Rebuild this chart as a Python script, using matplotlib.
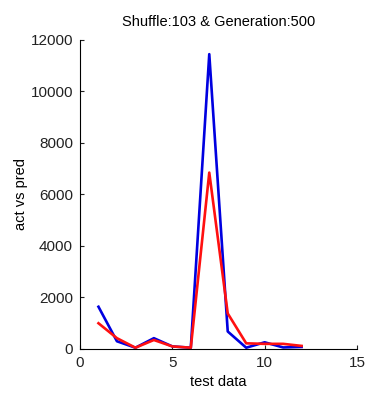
import matplotlib
matplotlib.use('Agg')
import matplotlib.pyplot as plt

# test data index
test_idx = [1, 2, 3, 4, 5, 6, 7, 8, 9, 10, 11, 12]
# actual values (blue)
actual = [1640, 300, 50, 420, 100, 50, 11450, 680, 50, 260, 60, 80]
# predicted values (red)
predicted = [1000, 420, 50, 350, 100, 50, 6850, 1380, 220, 200, 200, 120]

x_ticks = [0, 5, 10, 15]
y_ticks = [0, 2000, 4000, 6000, 8000, 10000, 12000]

plt.rcParams['font.family'] = ['Liberation Sans', 'DejaVu Sans']

fig = plt.figure(figsize=(3.66, 3.96), dpi=100)
ax = fig.add_axes([0.2186, 0.1187, 0.7568, 0.7803])

ax.plot(test_idx, actual, color='#0000e0', lw=1.9)
ax.plot(test_idx, predicted, color='#ff1010', lw=1.9)

ax.set_xlim(0, 15)
ax.set_ylim(0, 12000)
ax.set_xticks(x_ticks)
ax.set_yticks(y_ticks)
ax.tick_params(direction='in', length=3, labelsize=11, colors='#222222')
ax.tick_params(axis='y', pad=5)
ax.tick_params(axis='x', pad=5)
for s in ['top', 'right']:
    ax.spines[s].set_visible(False)

ax.set_title('Shuffle:103 & Generation:500', fontsize=10.5, pad=10)
ax.set_xlabel('test data', fontsize=10.5, labelpad=4)
ax.set_ylabel('act vs pred', fontsize=10.5, labelpad=2)

fig.savefig('out.png', dpi=100)
